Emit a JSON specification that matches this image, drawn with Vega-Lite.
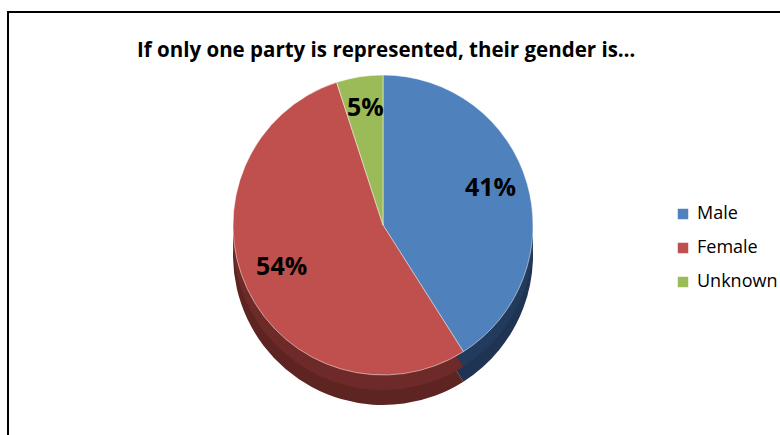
{
  "$schema": "https://vega.github.io/schema/vega-lite/v6.json",
  "width": 780,
  "height": 430,
  "padding": {"left": 8, "top": 12, "right": 0, "bottom": 0},
  "autosize": {"type": "none"},
  "background": "white",
  "title": {
    "text": "If only one party is represented, their gender is…",
    "font": "Open Sans",
    "fontSize": 20.5,
    "fontWeight": "bold",
    "color": "#000000",
    "anchor": "start",
    "orient": "top",
    "offset": -50,
    "dx": 130
  },
  "layer": [
    {
      "data": {"values": [{"frame": 1}]},
      "mark": {"type": "rect", "fill": null, "stroke": "#000000", "strokeWidth": 2},
      "encoding": {}
    },
    {
      "data": {
        "values": [
          {"gender": "Male", "pct": 0.41, "idx": 1},
          {"gender": "Female", "pct": 0.54, "idx": 2},
          {"gender": "Unknown", "pct": 0.05, "idx": 3}
        ]
      },
      "encoding": {
        "theta": {"field": "pct", "type": "quantitative", "stack": true},
        "order": {"field": "idx", "type": "quantitative"}
      },
      "layer": [
        {
          "mark": {"type": "arc", "outerRadius": 150, "x": 375, "y": 243},
          "encoding": {
            "color": {"field": "gender", "type": "nominal", "legend": null,
              "scale": {"domain": ["Male", "Female", "Unknown"], "range": ["#1F3452", "#5E2422", "#5C7234"]}}
          }
        },
        {
          "mark": {"type": "arc", "outerRadius": 150, "x": 375, "y": 228},
          "encoding": {
            "color": {"field": "gender", "type": "nominal", "legend": null,
              "scale": {"domain": ["Male", "Female", "Unknown"], "range": ["#223A5C", "#6E2A28", "#6A843C"]}}
          }
        },
        {
          "mark": {"type": "arc", "outerRadius": 150, "x": 375, "y": 213, "stroke": "white", "strokeWidth": 0.5},
          "encoding": {
            "color": {"field": "gender", "type": "nominal",
              "scale": {"domain": ["Male", "Female", "Unknown"], "range": ["#4F81BD", "#C0504D", "#9BBB59"]},
              "legend": {
                "title": null,
                "orient": "none",
                "legendX": 666,
                "legendY": 193,
                "symbolType": "square",
                "symbolSize": 110,
                "symbolStrokeWidth": 0,
                "labelFont": "Open Sans",
                "labelFontSize": 18,
                "labelColor": "#000000",
                "rowPadding": 16,
                "labelOffset": 5
              }
            }
          }
        },
        {
          "mark": {"type": "text", "radius": 112, "x": 375, "y": 207, "font": "Open Sans", "fontSize": 25, "fontWeight": "bold", "color": "#000000"},
          "encoding": {
            "text": {"field": "pct", "type": "quantitative", "format": ".0%"}
          }
        }
      ],
      "resolve": {"scale": {"color": "independent"}}
    }
  ],
  "resolve": {"scale": {"color": "independent"}},
  "config": {
    "view": {"stroke": null}
  }
}
